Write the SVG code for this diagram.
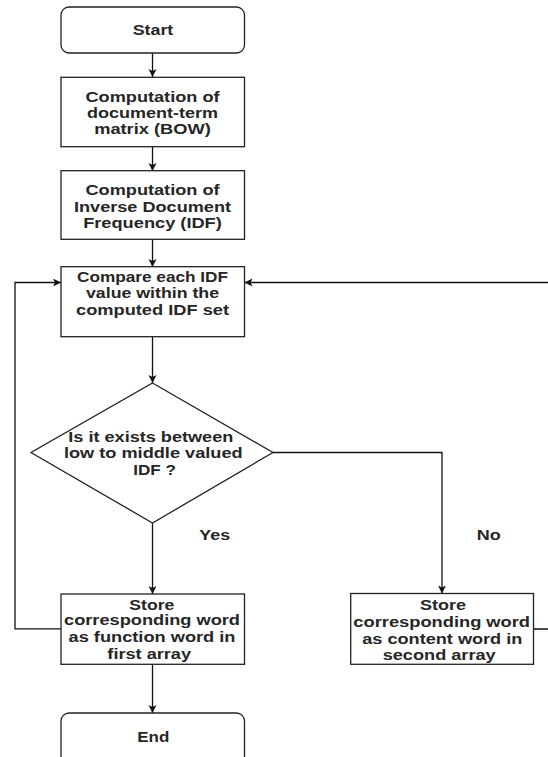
<svg xmlns="http://www.w3.org/2000/svg" width="548" height="757" viewBox="0 0 548 757">
<defs>
<style>
.shape{fill:#fff;stroke:#222;stroke-width:1.3}
.conn{fill:none;stroke:#111;stroke-width:1.3}
text{font-family:"Liberation Sans",Arial,sans-serif;font-weight:bold;font-size:14px;fill:#262626;text-anchor:middle}
</style>
<marker id="arr" markerWidth="10" markerHeight="10" refX="8" refY="4" orient="auto" markerUnits="userSpaceOnUse">
<path d="M0,0 L8,4 L0,8 L2,4 Z" fill="#111"/>
</marker>
</defs>
<rect width="548" height="757" fill="#fff"/>
<g id="connectors">
<path class="conn" d="M152.5,53 V77" marker-end="url(#arr)"/>
<path class="conn" d="M152.5,147 V171" marker-end="url(#arr)"/>
<path class="conn" d="M152.5,239.5 V267" marker-end="url(#arr)"/>
<path class="conn" d="M152.5,337 V383" marker-end="url(#arr)"/>
<path class="conn" d="M152.5,523 V594" marker-end="url(#arr)"/>
<path class="conn" d="M273,452.5 H442 V593.5" marker-end="url(#arr)"/>
<path class="conn" d="M152.5,664.5 V713" marker-end="url(#arr)"/>
<path class="conn" d="M61,628.8 H15 V282.5 H61" marker-end="url(#arr)"/>
<path class="conn" d="M533.5,629 H560 V282.5 H244.5" marker-end="url(#arr)"/>
<text x="214.7" y="539.8" textLength="30.7" lengthAdjust="spacingAndGlyphs">Yes</text>
<text x="488.7" y="540.3" textLength="24" lengthAdjust="spacingAndGlyphs">No</text>
</g>
<g id="start">
<rect class="shape" x="61" y="7" width="183.5" height="46" rx="8" ry="8"/>
<text x="153" y="34.8" textLength="40.6" lengthAdjust="spacingAndGlyphs">Start</text>
</g>
<g id="bow">
<rect class="shape" x="61" y="77.3" width="183.5" height="69.4"/>
<text x="152.5" y="101.5" textLength="134" lengthAdjust="spacingAndGlyphs">Computation of</text>
<text x="152.5" y="117.5" textLength="131" lengthAdjust="spacingAndGlyphs">document-term</text>
<text x="152.5" y="134.1" textLength="116.7" lengthAdjust="spacingAndGlyphs">matrix (BOW)</text>
</g>
<g id="idf">
<rect class="shape" x="61" y="170.7" width="183.5" height="68.6"/>
<text x="152.5" y="194.8" textLength="134" lengthAdjust="spacingAndGlyphs">Computation of</text>
<text x="152.5" y="211.5" textLength="157" lengthAdjust="spacingAndGlyphs">Inverse Document</text>
<text x="152.5" y="227.5" textLength="138.7" lengthAdjust="spacingAndGlyphs">Frequency (IDF)</text>
</g>
<g id="compare">
<rect class="shape" x="61" y="266.7" width="183.5" height="70"/>
<text x="152.5" y="281.8" textLength="151" lengthAdjust="spacingAndGlyphs">Compare each IDF</text>
<text x="152.5" y="298.3" textLength="133" lengthAdjust="spacingAndGlyphs">value within the</text>
<text x="152.5" y="314.8" textLength="153" lengthAdjust="spacingAndGlyphs">computed IDF set</text>
</g>
<g id="decision">
<polygon class="shape" points="152.5,383 273,452.5 152.5,523 31,452.5"/>
<text x="150.8" y="441.5" textLength="165" lengthAdjust="spacingAndGlyphs">Is it exists between</text>
<text x="153.3" y="458.1" textLength="178.7" lengthAdjust="spacingAndGlyphs">low to middle valued</text>
<text x="154.6" y="474.8" textLength="42.7" lengthAdjust="spacingAndGlyphs">IDF ?</text>
</g>
<g id="function-word">
<rect class="shape" x="61" y="594" width="183.5" height="70.3"/>
<text x="151.8" y="609.5" textLength="45" lengthAdjust="spacingAndGlyphs">Store</text>
<text x="152" y="625.1" textLength="176" lengthAdjust="spacingAndGlyphs">corresponding word</text>
<text x="152" y="641.8" textLength="167" lengthAdjust="spacingAndGlyphs">as function word in</text>
<text x="149.2" y="658.5" textLength="83.7" lengthAdjust="spacingAndGlyphs">first array</text>
</g>
<g id="content-word">
<rect class="shape" x="350.7" y="593.5" width="182.8" height="70.8"/>
<text x="443" y="609.8" textLength="46" lengthAdjust="spacingAndGlyphs">Store</text>
<text x="441.7" y="627.1" textLength="176.7" lengthAdjust="spacingAndGlyphs">corresponding word</text>
<text x="442.3" y="643.8" textLength="160" lengthAdjust="spacingAndGlyphs">as content word in</text>
<text x="439.2" y="659.8" textLength="113" lengthAdjust="spacingAndGlyphs">second array</text>
</g>
<g id="end">
<rect class="shape" x="61" y="713" width="183.5" height="60" rx="8" ry="8"/>
<text x="153.3" y="741.8" textLength="32" lengthAdjust="spacingAndGlyphs">End</text>
</g>
</svg>
